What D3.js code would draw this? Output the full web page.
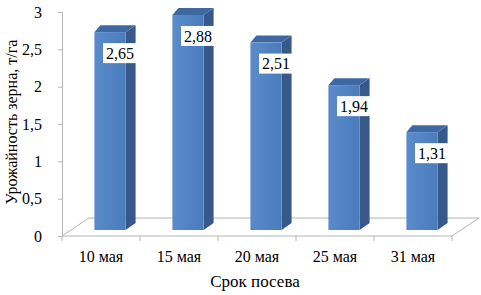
<!DOCTYPE html>
<html>
<head>
<meta charset="utf-8">
<script src="https://cdn.jsdelivr.net/npm/d3@7"></script>
<style>
body { margin: 0; background: #fff; }
text { font-family: "Liberation Serif", "Times New Roman", serif; fill: #000; }
</style>
</head>
<body>
<div id="chart"></div>
<script>
// data
var categories = ["10 мая", "15 мая", "20 мая", "25 мая", "31 мая"];
var values = [2.65, 2.88, 2.51, 1.94, 1.31];
var yTicks = [0, 0.5, 1, 1.5, 2, 2.5, 3];
var xTitle = "Срок посева";
var yTitle = "Урожайность зерна, т/га";

var width = 481, height = 295;
var margin = {top: 12, left: 62, right: 29, bottom: 59};

var ru = d3.formatLocale({decimal: ",", thousands: " ", grouping: [3], currency: ["", ""]});
var fmt = ru.format(",.2f");
var tickFmt = function(d) { return ru.format("")(d); };

var svg = d3.select("#chart").append("svg")
    .attr("width", width)
    .attr("height", height);

var x = d3.scaleBand()
    .domain(categories)
    .range([margin.left, width - margin.right]);

var y = d3.scaleLinear()
    .domain([0, 3])
    .range([height - margin.bottom, margin.top]);

// floor depth and bar placement inside it
var floorDx = 27, floorDy = -18;
var barDx = 9, barDy = -6;      // front face of bars sits a bit back
var depthDx = 10, depthDy = -7; // depth of each bar
var barW = x.bandwidth() * 0.4;

var x0 = x.range()[0], x1 = x.range()[1], y0 = y(0);

// floor
svg.append("path")
    .attr("d", "M" + x0 + "," + y0 + "L" + x1 + "," + y0 + "L" + (x1 + floorDx) + "," + (y0 + floorDy) +
      "L" + (x0 + floorDx) + "," + (y0 + floorDy) + "Z")
    .attr("fill", "#fff")
    .attr("stroke", "#b4b4b4")
    .attr("stroke-width", 1);

// x ticks
svg.append("g").selectAll("line")
    .data(categories.concat([null]))
    .enter().append("line")
    .attr("x1", function(d) { return d === null ? x1 : x(d); })
    .attr("x2", function(d) { return d === null ? x1 : x(d); })
    .attr("y1", y0)
    .attr("y2", y0 + 5)
    .attr("stroke", "#b4b4b4");

// y axis
var yAxis = svg.append("g")
    .attr("transform", "translate(" + x0 + ",0)")
    .call(d3.axisLeft(y).tickValues(yTicks).tickFormat(tickFmt).tickSize(4).tickPadding(16));
yAxis.select(".domain").attr("stroke", "#b4b4b4");
yAxis.selectAll(".tick line").attr("stroke", "#b4b4b4");
yAxis.selectAll(".tick text")
    .style("font-family", "Liberation Serif")
    .style("font-size", "16px")
    .attr("fill", "#000");

// gradient for bar front
var defs = svg.append("defs");
var g = defs.append("linearGradient").attr("id", "front").attr("x1", 0).attr("x2", 1);
g.append("stop").attr("offset", "0%").attr("stop-color", "#5a8ccc");
g.append("stop").attr("offset", "100%").attr("stop-color", "#4a7cbc");

var bars = svg.append("g").selectAll("g")
    .data(values)
    .enter().append("g");

function fx(d, i) { return x(categories[i]) + x.bandwidth() / 2 - barW / 2 + barDx; }
function fy(d) { return y(d) + barDy; }
var fb = y0 + barDy;

// side face
bars.append("path")
    .attr("d", function(d, i) {
      var l = fx(d, i) + barW, t = fy(d);
      return "M" + l + "," + t + "L" + (l + depthDx) + "," + (t + depthDy) +
        "L" + (l + depthDx) + "," + (fb + depthDy) + "L" + l + "," + fb + "Z";
    })
    .attr("fill", "#36598a");

// top face
bars.append("path")
    .attr("d", function(d, i) {
      var l = fx(d, i), t = fy(d);
      return "M" + l + "," + t + "L" + (l + barW) + "," + t + "L" + (l + barW + depthDx) + "," + (t + depthDy) +
        "L" + (l + depthDx * 0.6) + "," + (t + depthDy) + "Z";
    })
    .attr("fill", "#3f68a2");

// front face
bars.append("rect")
    .attr("x", fx)
    .attr("y", fy)
    .attr("width", barW)
    .attr("height", function(d) { return fb - fy(d); })
    .attr("fill", "url(#front)");

// value labels
var lab = bars.append("g")
    .attr("transform", function(d, i) {
      return "translate(" + (fx(d, i) + barW / 2 + 10) + "," + (fy(d) + 21) + ")";
    });
lab.append("rect")
    .attr("x", -17).attr("y", -10)
    .attr("width", 34).attr("height", 20)
    .attr("fill", "#fff");
lab.append("text")
    .attr("text-anchor", "middle")
    .attr("dy", "0.35em")
    .style("font-size", "16px")
    .text(function(d) { return fmt(d); });

// category labels
svg.append("g").selectAll("text")
    .data(categories)
    .enter().append("text")
    .attr("x", function(d) { return x(d) + x.bandwidth() / 2; })
    .attr("y", 262)
    .attr("text-anchor", "middle")
    .style("font-size", "16px")
    .text(function(d) { return d; });

// axis titles
svg.append("text")
    .attr("x", 255)
    .attr("y", 287)
    .attr("text-anchor", "middle")
    .style("font-size", "17px")
    .text(xTitle);

svg.append("text")
    .attr("transform", "translate(17,122) rotate(-90)")
    .attr("text-anchor", "middle")
    .style("font-size", "16px")
    .text(yTitle);
</script>
</body>
</html>
